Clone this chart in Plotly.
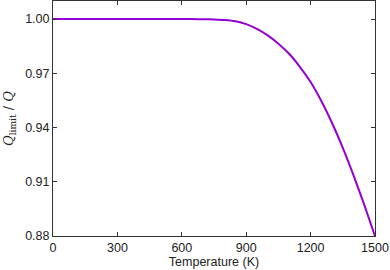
import plotly.graph_objects as go

temperature = [0, 100, 200, 300, 400, 500, 600, 650, 700, 750, 800, 850, 900, 950, 1000,
               1050, 1100, 1150, 1200, 1250, 1300, 1350, 1400, 1450, 1500]
ratio = [1.0, 1.0, 1.0, 1.0, 1.0, 1.0, 1.0, 0.99998, 0.99993, 0.99978, 0.9995, 0.9988,
         0.9972, 0.9946, 0.9910, 0.9864, 0.9808, 0.9736, 0.9652, 0.9547, 0.9425,
         0.9287, 0.9135, 0.8972, 0.8800]
x_ticks = [0, 300, 600, 900, 1200, 1500]
y_ticks = [0.88, 0.91, 0.94, 0.97, 1.00]

fig = go.Figure()
fig.add_trace(go.Scatter(x=temperature, y=ratio, mode="lines",
                         line=dict(color="#9400D3", width=2, shape="spline", smoothing=0.6),
                         showlegend=False, hoverinfo="skip"))

axis_common = dict(showline=True, linecolor="#333333", linewidth=1, mirror="allticks",
                   ticks="inside", ticklen=4, tickcolor="#333333", showgrid=False,
                   zeroline=False, tickfont=dict(size=12.5, color="#222222"))
fig.update_xaxes(range=[0, 1500], tickvals=x_ticks, ticktext=[str(v) for v in x_ticks],
                 title=dict(text="Temperature (K)", font=dict(size=12.5, color="#222222"), standoff=3),
                 **axis_common)
fig.update_yaxes(range=[0.88, 1.01], tickvals=y_ticks, ticktext=[f"{v:.2f}" for v in y_ticks],
                 title=dict(text="<i>Q</i><sub>limit</sub> / <i>Q</i>",
                            font=dict(size=13, color="#222222", family="DejaVu Serif"), standoff=8),
                 **axis_common)
fig.update_layout(width=390, height=270, margin=dict(l=53, r=15, t=1, b=34, autoexpand=False),
                  plot_bgcolor="white", paper_bgcolor="white",
                  font=dict(family="Liberation Sans, Arial, sans-serif"))
fig.write_html("out.html", config={"displayModeBar": False},
               post_script="document.body.style.margin='0';document.body.style.padding='0';")
